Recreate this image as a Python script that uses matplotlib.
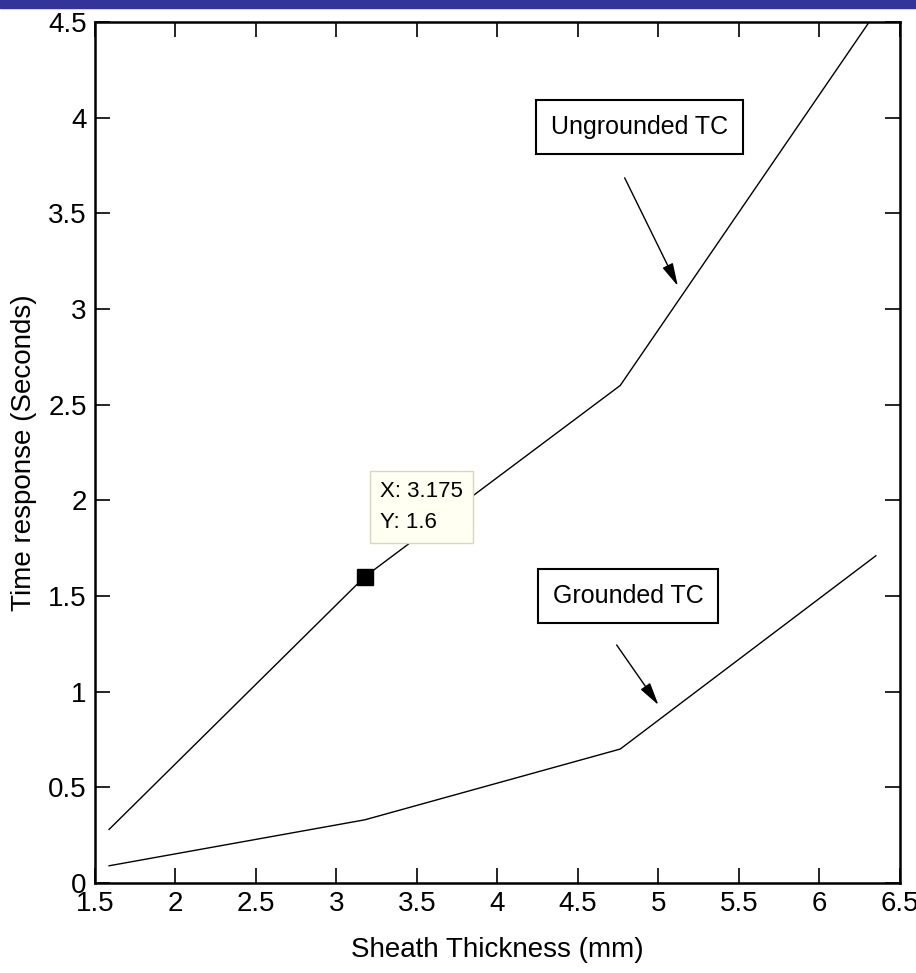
import matplotlib
matplotlib.use("Agg")
from matplotlib import pyplot as plt
from matplotlib.patches import Rectangle

plt.rcParams['font.family'] = ['Liberation Sans', 'DejaVu Sans']

# data
thickness = [1.5875, 3.175, 4.7625, 6.35]
ungrounded = [0.28, 1.6, 2.6, 4.55]
grounded = [0.09, 0.33, 0.70, 1.71]
xticks = [1.5, 2, 2.5, 3, 3.5, 4, 4.5, 5, 5.5, 6, 6.5]
yticks = [0, 0.5, 1, 1.5, 2, 2.5, 3, 3.5, 4, 4.5]
tip_x, tip_y = 3.175, 1.6

fig = plt.figure(figsize=(9.16, 9.73), dpi=100)
fig.patches.append(Rectangle((0, 1 - 8 / 973), 1, 8 / 973, transform=fig.transFigure,
                             color="#333399", zorder=0))
ax = fig.add_axes([0.1037, 0.0925, 0.8788, 0.885])

ax.plot(thickness, ungrounded, color="black", linewidth=1)
ax.plot(thickness, grounded, color="black", linewidth=1)
ax.set_xlim(1.5, 6.5)
ax.set_ylim(0, 4.5)
ax.set_xticks(xticks)
ax.set_xticklabels([f"{t:g}" for t in xticks])
ax.set_yticks(yticks)
ax.set_yticklabels([f"{t:g}" for t in yticks])
ax.tick_params(direction="in", length=11, width=1.2, labelsize=20,
               top=True, right=True, pad=6)
for s in ax.spines.values():
    s.set_linewidth(1.8)

ax.set_xlabel("Sheath Thickness (mm)", fontsize=20, labelpad=14)
ax.set_ylabel("Time response (Seconds)", fontsize=20, labelpad=8)

# data tip
ax.plot([tip_x], [tip_y], marker="s", color="black", markersize=11)
ax.text(3.27, 1.965, f"X: {tip_x}\nY: {tip_y}", fontsize=16, va="center", ha="left",
        linespacing=1.6,
        bbox=dict(boxstyle="square,pad=0.45", fc="#fffff2", ec="#d8d8c0", lw=1))

# labels with arrows
box = dict(boxstyle="square,pad=0.6", fc="white", ec="black", lw=1.5)
arrow = dict(arrowstyle="-|>,head_length=1.4,head_width=0.35", color="black", lw=1,
             shrinkA=0, shrinkB=0)
ax.text(4.88, 3.95, "Ungrounded TC", fontsize=18, ha="center", va="center", bbox=box)
ax.annotate("", xy=(5.12, 3.12), xytext=(4.79, 3.685), arrowprops=arrow)
ax.text(4.81, 1.50, "Grounded TC", fontsize=18, ha="center", va="center", bbox=box)
ax.annotate("", xy=(5.0, 0.93), xytext=(4.74, 1.244), arrowprops=arrow)

plt.savefig("out.png", dpi=100)
